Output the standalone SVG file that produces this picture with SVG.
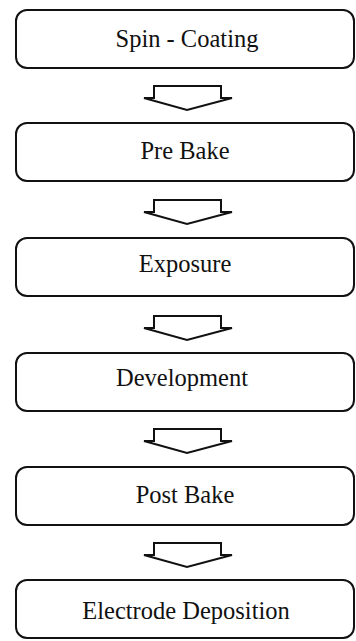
<svg xmlns="http://www.w3.org/2000/svg" width="356" height="641" viewBox="0 0 356 641">
<style>
.box{fill:#fff;stroke:#111;stroke-width:2}
.lbl{font-family:"Liberation Serif","Times New Roman",serif;font-size:24.5px;fill:#111;text-anchor:middle}
.arr{fill:#fff;stroke:#111;stroke-width:2;stroke-linejoin:miter}
</style>
<defs>
<polygon id="arrow" class="arr" points="154,0 221,0 221,12 232,12 187,24 144,12 154,12"/>
</defs>
<rect width="356" height="641" fill="#fff"/>
<g id="connectors">
<use href="#arrow" y="86"/>
<use href="#arrow" y="200"/>
<use href="#arrow" y="316"/>
<use href="#arrow" y="429"/>
<use href="#arrow" y="543"/>
</g>
<g id="n1"><rect class="box" x="16" y="10" width="338" height="58" rx="11"/><text class="lbl" x="187" y="47">Spin - Coating</text></g>
<g id="n2"><rect class="box" x="16" y="123" width="338" height="58" rx="11"/><text class="lbl" x="185" y="159">Pre Bake</text></g>
<g id="n3"><rect class="box" x="16" y="238" width="338" height="58" rx="11"/><text class="lbl" x="185" y="272">Exposure</text></g>
<g id="n4"><rect class="box" x="16" y="353" width="338" height="58" rx="11"/><text class="lbl" x="182" y="386">Development</text></g>
<g id="n5"><rect class="box" x="16" y="467" width="338" height="58" rx="11"/><text class="lbl" x="185" y="503">Post Bake</text></g>
<g id="n6"><rect class="box" x="16" y="580" width="338" height="58" rx="11"/><text class="lbl" x="186" y="619">Electrode Deposition</text></g>
</svg>
